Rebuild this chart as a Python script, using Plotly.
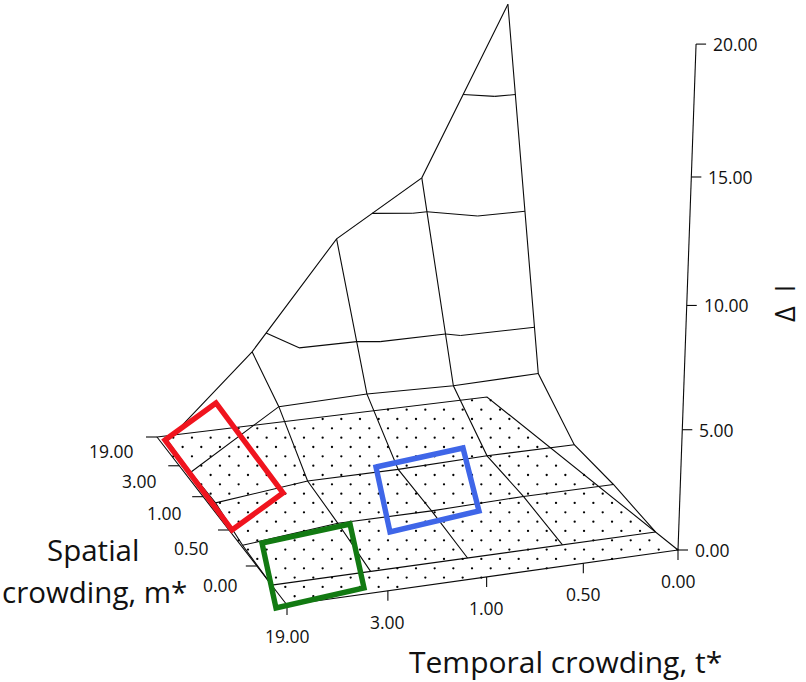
import numpy as np
import plotly.graph_objects as go

# ---------- data ----------
t_labels = ["19.00", "3.00", "1.00", "0.50", "0.00"]
m_labels = ["19.00", "3.00", "1.00", "0.50", "0.00"]
z_labels = ["0.00", "5.00", "10.00", "15.00", "20.00"]
z_ticks = [0, 5, 10, 15, 20]
contour_levels = [5, 10, 15]

# Delta I by spatial crowding (rows: m* = 19,3,1,0.5,0) and temporal crowding (cols: t* = 19,3,1,0.5,0)
dI_m19 = [0.5, 4.2, 9.0, 11.4, 18.85]
dI_m3 = [0.4, 2.9, 3.0, 2.9, 3.0]
dI_m1 = [0.45, 0.9, 0.9, 1.0, 1.0]
dI_m05 = [0.1, 0.5, 0.5, 0.6, 0.6]
dI_m0 = [0.0, 0.0, 0.0, 0.0, 0.0]

# highlighted regions, in picture units
red_x = [165, 216, 283, 232]
red_y = [440, 403, 493, 530]
green_x = [262, 350, 364, 276]
green_y = [543, 524, 588, 608]
blue_x = [376, 463, 479, 390]
blue_y = [467, 448, 511, 532]

# ---------- camera: floor corners and z-axis calibration ----------
floor_uv = [(0, 0), (4, 0), (4, 5), (0, 5)]
floor_px = [(287, 605), (678, 550), (487, 397), (157, 437)]
zcal_z = [5, 10, 15, 20]
zcal_x = [683, 687, 691, 696]
zcal_y = [429, 306, 177, 44]

A, b = [], []
for (u, v), (x, y) in zip(floor_uv, floor_px):
    A.append([u, v, 1, 0, 0, 0, -x * u, -x * v]); b.append(x)
    A.append([0, 0, 0, u, v, 1, -y * u, -y * v]); b.append(y)
h = np.linalg.solve(np.array(A, float), np.array(b, float))
H = np.array([[h[0], h[1], h[2]], [h[3], h[4], h[5]], [h[6], h[7], 1.0]])

base = H @ np.array([4, 0, 1.0])
A2, b2 = [], []
for z, x, y in zip(zcal_z, zcal_x, zcal_y):
    A2.append([z, 0, -x * z]); b2.append(x * base[2] - base[0])
    A2.append([0, z, -y * z]); b2.append(y * base[2] - base[1])
pz = np.linalg.lstsq(np.array(A2, float), np.array(b2, float), rcond=None)[0]


def project(u, v, z=0.0):
    q = H @ np.array([u, v, 1.0]) + pz * z
    return q[0] / q[2], q[1] / q[2]


Z = np.array([dI_m19, dI_m3, dI_m1, dI_m05, dI_m0])
U = [0, 1, 2, 3, 4]
V = [4.5, 3.5, 2.5, 1.5, 0.5]


def node(r, c):
    return np.array([U[c], V[r], Z[r, c]], float)


def polyline(points):
    xs, ys = [], []
    for p in points:
        if p is None:
            xs.append(None); ys.append(None)
        else:
            a, c = project(*p)
            xs.append(a); ys.append(c)
    return xs, ys


fig = go.Figure()


def add_line(xs, ys, color="#0a0a0a", width=1.1):
    fig.add_trace(go.Scatter(x=xs, y=ys, mode="lines", hoverinfo="skip",
                             line=dict(color=color, width=width)))


# floor dot pattern, clipped to the floor outline
poly = np.array([project(u, v) for u, v in floor_uv])


def inside(px, py):
    s = None
    for i in range(4):
        ax, ay = poly[i]
        bx, by = poly[(i + 1) % 4]
        cr = (bx - ax) * (py - ay) - (by - ay) * (px - ax)
        if s is None:
            s = cr > 0
        elif (cr > 0) != s:
            return False
    return True


dot_x, dot_y = [], []
for k in range(-3, 24):
    yy = 419 + 9.33 * k
    off = 0 if k % 2 == 0 else 9.33
    for i in range(-16, 20):
        xx = 416 + off + 18.67 * i
        if inside(xx, yy):
            dot_x.append(xx); dot_y.append(yy)
fig.add_trace(go.Scatter(x=dot_x, y=dot_y, mode="markers", hoverinfo="skip",
                         marker=dict(color="#000000", size=2.3, line=dict(width=0))))

# floor outline
add_line(*polyline([(u, v) for u, v in floor_uv] + [floor_uv[0]]))

# wire mesh: rows and columns
for r in range(5):
    add_line(*polyline([tuple(node(r, c)) for c in range(5)]))
for c in range(5):
    add_line(*polyline([tuple(node(r, c)) for r in range(5)]))

# contour levels through the triangulated mesh
def cut(a, b, lev):
    if (a[2] - lev) * (b[2] - lev) < 0:
        return tuple(a + (b - a) * (lev - a[2]) / (b[2] - a[2]))
    return None


for lev in contour_levels:
    pts = []
    for r in range(4):
        for c in range(4):
            tl, tr, bl, br = node(r, c), node(r, c + 1), node(r + 1, c), node(r + 1, c + 1)
            for tri in ((tl, tr, bl), (tr, br, bl)):
                hits = [cut(tri[i], tri[(i + 1) % 3], lev) for i in range(3)]
                hits = [q for q in hits if q is not None]
                if len(hits) == 2:
                    pts += [hits[0], hits[1], None]
    add_line(*polyline(pts))

# axes: z axis and ticks
add_line(*polyline([(4, 0, z_ticks[0]), (4, 0, z_ticks[-1])]))
tx, ty = [], []
for z in z_ticks:
    a, c = project(4, 0, z)
    tx += [a, a + 10, None]; ty += [c, c, None]
for i in range(5):               # t axis ticks
    a, c = project(U[i], 0)
    tx += [a, a, None]; ty += [c, c + 10, None]
for v in [1, 2, 3, 4, 5]:        # m axis ticks
    a, c = project(0, v)
    tx += [a, a - 11, None]; ty += [c, c, None]
add_line(tx, ty)

# highlighted regions
for xs, ys, col in ((red_x, red_y, "#f0141e"), (green_x, green_y, "#127a12"), (blue_x, blue_y, "#3f66e8")):
    add_line(xs + xs[:1] + xs[1:2], ys + ys[:1] + ys[1:2], color=col, width=5.4)

TXT = "#111111"
FONT = "Open Sans"
ann = []
for lab, z in zip(z_labels, z_ticks):
    a, c = project(4, 0, z)
    ann.append(dict(x=a, y=c, text=lab, xanchor="left", yanchor="middle", xshift=15, yshift=0,
                    font=dict(size=17.5, color=TXT, family=FONT)))
for lab, u in zip(t_labels, U):
    a, c = project(u, 0)
    ann.append(dict(x=a, y=c, text=lab, xanchor="center", yanchor="middle", yshift=-31,
                    font=dict(size=17.5, color=TXT, family=FONT)))
for lab, v in zip(m_labels, V):
    a, c = project(0, v)
    ann.append(dict(x=a, y=c, text=lab, xanchor="right", yanchor="middle", xshift=-32,
                    font=dict(size=17.5, color=TXT, family=FONT)))
ann.append(dict(x=93, y=549, text="Spatial", xanchor="center", yanchor="middle",
                font=dict(size=29.5, color="#111111", family=FONT)))
ann.append(dict(x=94, y=591, text="crowding, m*", xanchor="center", yanchor="middle",
                font=dict(size=29.5, color="#111111", family=FONT)))
ann.append(dict(x=565, y=661, text="Temporal crowding, t*", xanchor="center", yanchor="middle",
                font=dict(size=30, color="#111111", family=FONT)))
ann.append(dict(x=784, y=304, text="Δ  I", xanchor="center", yanchor="middle", textangle=-90,
                font=dict(size=27, color="#111111", family=FONT)))
for d in ann:
    d.update(showarrow=False, xref="x", yref="y")

fig.update_layout(
    width=806, height=682, margin=dict(l=0, r=0, t=0, b=0, pad=0),
    paper_bgcolor="white", plot_bgcolor="white", showlegend=False, annotations=ann,
    xaxis=dict(range=[0, 806], visible=False, fixedrange=True),
    yaxis=dict(range=[682, 0], visible=False, fixedrange=True),
)
fig.write_html("out.html", config=dict(displayModeBar=False),
               post_script="document.body.style.margin='0';")
